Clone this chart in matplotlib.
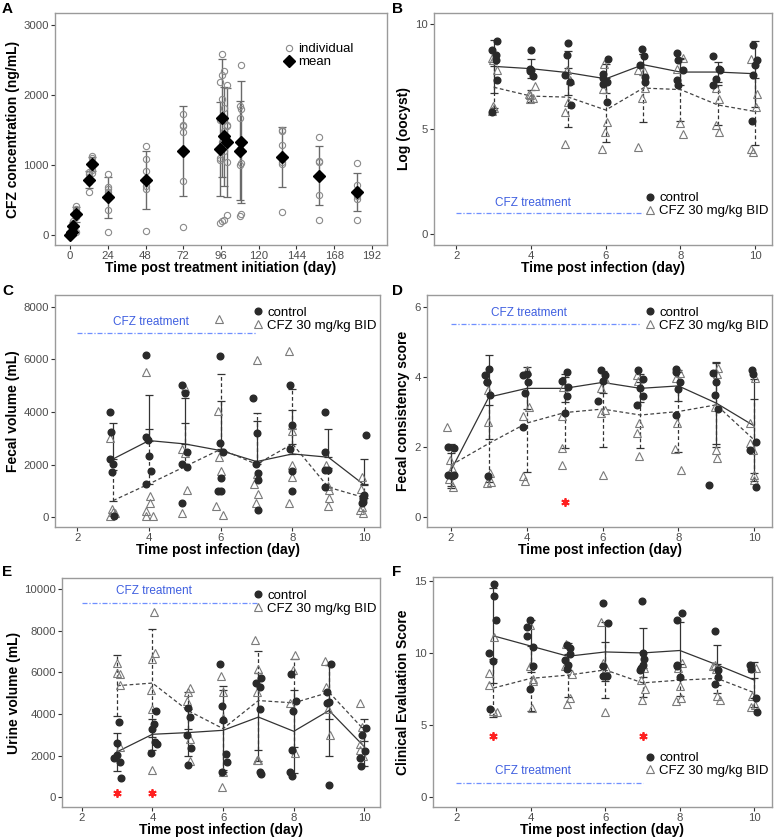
import matplotlib
matplotlib.use('Agg')
import matplotlib.pyplot as plt
from matplotlib.lines import Line2D
import numpy as np

plt.rcParams['font.family'] = ['Liberation Sans', 'DejaVu Sans']

# ---------------- panel A : CFZ concentration ----------------
A_days = [0, 1, 2, 4, 12, 14, 24, 48, 72, 95.5, 96.6, 97.6, 99.7, 107.8, 108.7, 134.7, 158.5, 182.4]
A_mean = [0, 30, 120, 290, 786, 1010, 533, 776, 1195, 1224, 1667, 1405, 1319, 1200, 1319, 1110, 843, 610]
A_sd = [0, 15, 60, 110, 120, 100, 293, 417, 638, 666, 843, 705, 777, 705, 871, 430, 420, 273]
A_ind = [
    [0, 5, 10, 0], [20, 40, 60], [60, 120, 200, 170], [40, 250, 300, 370, 410],
    [614, 757, 860, 900], [1129, 1014, 880, 1100, 930],
    [871, 681, 652, 605, 348, 38], [1262, 1081, 905, 690, 657, 57],
    [1729, 1571, 1557, 1462, 762, 105],
    [2177, 1643, 1096, 1072, 167], [2586, 2286, 1939, 1330, 190],
    [2334, 1810, 1480, 1200, 214], [2143, 1572, 1560, 1035, 286],
    [1833, 1667, 1230, 1000, 270], [2429, 1800, 1340, 1030, 300],
    [1500, 1476, 1281, 1038, 1010, 319], [1395, 1057, 1033, 571, 214],
    [1024, 714, 548, 510, 205],
]

# ---------------- panel B : log oocyst ----------------
B_days = [3, 4, 5, 6, 7, 8, 9, 10]
B_ctrl_mean = [7.97, 7.86, 7.67, 7.38, 8.05, 7.70, 7.70, 7.62]
B_ctrl_sd = [1.25, 0.45, 1.05, 0.69, 0.49, 0.63, 0.46, 1.57]
B_trt_mean = [6.98, 6.56, 6.51, 5.90, 6.94, 6.87, 6.14, 5.83]
B_trt_sd = [1.0, 0.3, 1.4, 1.5, 1.6, 1.5, 0.95, 1.6]
B_ctrl_x = [2.94, 3.09, 3.05, 3.07, 3.09, 2.94, 4.01, 3.97, 4.01, 4.04, 3.97,
            4.99, 4.95, 4.90, 5.04, 5.06, 6.07, 5.93, 5.93, 6.02, 6.04, 5.93,
            6.96, 7.02, 7.05, 7.05, 6.92, 7.90, 7.94, 8.08, 7.90, 7.92,
            8.86, 9.02, 9.06, 8.95, 8.88, 9.95, 10.04, 10.0, 9.95, 9.91]
B_ctrl_y = [8.73, 9.17, 8.52, 8.29, 7.30, 5.79, 8.73, 7.86, 7.78, 7.51, 7.73,
            9.10, 8.52, 7.54, 7.22, 6.14, 8.30, 7.62, 7.14, 7.25, 6.30, 7.41,
            8.78, 8.46, 7.46, 7.22, 8.02, 8.62, 8.25, 7.78, 7.30, 7.10,
            8.46, 7.83, 7.78, 7.38, 7.10, 8.97, 8.25, 8.02, 7.54, 5.40]
B_trt_x = [2.97, 2.94, 3.09, 2.98, 3.0, 2.94, 4.10, 3.95, 3.97, 4.04, 3.98,
           4.95, 5.04, 4.99, 4.90, 4.90, 5.95, 5.93, 6.02, 5.98, 5.91,
           6.87, 7.02, 7.05, 6.96, 6.87, 7.90, 8.08, 7.99, 8.06,
           8.95, 9.02, 8.95, 9.04, 9.88, 10.04, 10.02, 9.88, 9.95]
B_trt_y = [8.25, 8.37, 7.78, 6.11, 5.98, 5.87, 7.03, 6.67, 6.59, 6.46, 6.40,
           7.78, 7.30, 6.27, 5.79, 4.29, 8.10, 6.90, 5.32, 4.87, 4.05,
           7.78, 7.73, 6.94, 6.46, 4.13, 7.86, 8.37, 5.29, 4.76,
           6.94, 6.40, 5.19, 4.87, 8.30, 6.67, 6.03, 4.05, 3.89]

# ---------------- panel C : fecal volume ----------------
C_days = [3, 4, 5, 6, 7, 8, 9, 10]
C_ctrl_mean = [2215, 2912, 2785, 2532, 2114, 2405, 2279, 1228]
C_ctrl_sd = [1350, 1734, 1735, 1900, 1557, 1671, 1063, 1000]
C_trt_mean = [633, 1266, 1924, 2583, 2013, 2785, 1139, 747]
C_trt_sd = [1165, 2076, 1671, 2848, 1937, 2089, 720, 520]
C_ctrl_x = [2.91, 2.93, 2.91, 2.99, 2.96, 3.02, 3.91, 3.93, 3.98, 4.01, 4.07, 3.93,
            4.91, 5.0, 5.07, 4.91, 5.05, 4.91, 5.98, 5.98, 6.05, 6.02, 5.93, 6.02,
            6.91, 7.0, 7.05, 7.05, 7.05, 6.98, 7.93, 8.0, 7.93, 7.98, 7.98,
            8.91, 8.91, 8.91, 9.0, 8.91, 10.05, 9.99, 9.97, 9.96, 9.93, 9.97]
C_ctrl_y = [4013, 3254, 2215, 2026, 1709, 50, 6165, 3038, 2937, 2329, 1760, 1266,
            5026, 4735, 2494, 2026, 1924, 532, 6127, 2810, 2494, 1507, 1013, 1013,
            4520, 3216, 1697, 1418, 279, 2013, 5026, 3507, 2583, 1772, 1013,
            4013, 2494, 1798, 1798, 1165, 3127, 848, 684, 595, 532, 785]
C_trt_x = [2.91, 2.96, 3.0, 2.91, 3.05, 3.91, 4.03, 4.03, 3.93, 3.93, 4.1,
           4.91, 5.0, 5.05, 4.91, 5.0, 5.96, 5.93, 5.96, 6.0, 6.05, 5.88,
           7.0, 6.93, 7.0, 7.05, 6.98, 7.91, 7.98, 8.0, 7.98, 8.0, 7.91,
           8.93, 9.0, 9.03, 9.03, 9.0, 9.90, 9.93, 9.88, 9.97, 9.93]
C_trt_y = [3000, 304, 215, 51, 152, 5532, 810, 532, 241, 51, 51,
           2583, 4900, 1038, 177, 2431, 7520, 4039, 2279, 1772, 89, 430,
           5975, 1266, 1633, 886, 557, 6330, 3507, 3279, 1988, 1544, 532,
           1988, 1190, 1038, 722, 430, 1063, 1544, 279, 152, 405]

# ---------------- panel D : fecal consistency ----------------
D_days = [2, 3, 4, 5, 6, 7, 8, 9, 10]
D_ctrl_mean = [1.33, 3.42, 3.67, 3.67, 3.84, 3.67, 3.74, 3.25, 2.60]
D_ctrl_sd = [0.5, 1.2, 0.6, 0.4, 0.31, 0.4, 0.44, 1.17, 1.34]
D_trt_mean = [1.48, 2.10, 2.68, 2.98, 3.08, 2.91, 3.01, 3.20, 2.20]
D_trt_sd = [0.6, 1.1, 1.38, 1.0, 1.08, 0.94, 1.14, 1.2, 1.16]
D_ctrl_x = [1.93, 2.08, 1.93, 2.02, 2.08, 2.90, 3.01, 2.94, 3.03, 2.98, 2.96,
            3.91, 4.0, 3.95, 4.04, 3.91, 4.92, 5.05, 5.09, 5.05, 5.01,
            5.97, 6.02, 5.89, 6.06, 6.94, 7.07, 7.07, 6.91, 6.98,
            7.95, 8.04, 8.0, 7.93, 7.93, 8.92, 8.99, 8.96, 9.05, 8.81,
            9.93, 9.96, 10.04, 9.89, 10.04]
D_ctrl_y = [2.01, 1.98, 1.21, 1.16, 1.21, 4.05, 4.22, 3.86, 3.48, 1.16, 3.84,
            4.05, 4.08, 3.53, 3.84, 2.58, 3.89, 4.15, 3.70, 3.46, 2.98,
            4.2, 3.89, 3.32, 4.05, 4.18, 3.94, 3.44, 3.2, 3.67,
            4.22, 3.86, 3.65, 2.91, 4.15, 4.10, 3.86, 3.48, 3.08, 0.92,
            4.18, 4.07, 2.14, 1.92, 0.85]
D_trt_x = [1.90, 1.97, 1.96, 2.06, 2.02, 2.98, 2.98, 2.94, 3.07, 3.03,
           4.01, 3.91, 4.07, 3.95, 3.91, 4.96, 4.92, 4.92, 4.92,
           5.95, 6.06, 5.95, 6.06, 6.02, 6.90, 6.94, 6.97, 6.91, 6.97,
           7.95, 7.97, 7.91, 8.08, 8.04, 8.96, 9.05, 9.02, 8.99, 9.02,
           9.90, 10.02, 9.89, 9.97, 9.99, 9.99]
D_trt_y = [2.58, 1.63, 1.08, 0.85, 1.40, 3.61, 2.70, 0.97, 0.99, 1.25,
           4.2, 2.87, 3.13, 1.02, 1.18, 3.72, 2.87, 1.97, 1.49,
           3.67, 3.93, 2.96, 3.06, 1.21, 4.05, 3.89, 2.68, 2.41, 1.73,
           3.96, 2.68, 1.94, 1.35, 4.12, 3.13, 4.24, 4.08, 1.90, 1.68,
           2.68, 3.96, 2.11, 1.92, 1.21, 1.06]
D_star_days = [5]

# ---------------- panel E : urine volume ----------------
E_days = [3, 4, 5, 6, 7, 8, 9, 10]
E_ctrl_mean = [2187, 3027, 3107, 3218, 3852, 3170, 4169, 2425]
E_ctrl_sd = [919, 737, 1133, 1925, 2100, 2000, 2200, 930]
E_trt_mean = [5357, 5484, 4169, 3297, 4644, 4533, 5040, 3218]
E_trt_sd = [1466, 2600, 900, 2060, 2377, 2100, 1300, 520]
E_ctrl_x = [3.04, 2.99, 2.92, 2.99, 3.08, 3.10, 4.10, 4.05, 3.98, 3.95, 4.08, 4.12,
            5.02, 5.07, 5.08, 5.02, 4.97, 5.92, 5.96, 5.99, 6.08, 6.10, 5.96,
            6.93, 7.07, 7.05, 7.03, 7.03, 7.07, 7.92, 7.97, 7.94, 8.07, 7.90, 7.94,
            8.93, 9.05, 9.01, 8.93, 9.01, 9.92, 10.05, 10.02, 9.88, 9.90]
E_ctrl_y = [3614, 2631, 1870, 2029, 1680, 951, 4121, 3503, 3265, 2108, 2663, 2584,
            4280, 3852, 2378, 1553, 2980, 6388, 4406, 3693, 2061, 1680, 1236,
            5484, 5706, 5278, 4248, 1205, 1110, 5912, 4121, 2267, 4644, 1205, 1046,
            5072, 6388, 4565, 4533, 571, 3011, 3328, 2219, 1902, 1522]
E_trt_x = [2.99, 2.99, 3.07, 3.08, 3.08, 4.03, 3.98, 4.08, 3.95, 3.98, 3.98,
           5.07, 5.02, 4.97, 5.07, 5.05, 5.93, 6.01, 6.01, 6.01, 5.96,
           6.91, 7.0, 6.97, 6.95, 7.0, 8.04, 7.97, 7.90, 8.04,
           8.89, 8.92, 8.98, 9.03, 9.86, 9.92, 9.88, 9.88, 9.97]
E_trt_y = [6435, 5960, 5912, 5389, 2425, 8876, 6657, 6911, 5151, 4248, 1316,
           5230, 5072, 4644, 2821, 1743, 5801, 5072, 3804, 1236, 475,
           7545, 6150, 5072, 1791, 1791, 6816, 6118, 4533, 2108,
           6546, 5278, 4216, 2980, 4533, 3376, 2584, 2267, 1997]
E_star_days = [3, 4]

# ---------------- panel F : clinical evaluation score ----------------
F_days = [3, 4, 5, 6, 7, 8, 9, 10]
F_ctrl_mean = [11.21, 10.5, 9.79, 10.09, 10.02, 10.19, 9.19, 8.13]
F_ctrl_sd = [3.3, 1.8, 0.95, 2.05, 1.7, 2.0, 1.4, 1.25]
F_trt_mean = [7.58, 8.25, 8.48, 8.84, 7.94, 8.13, 8.25, 7.25]
F_trt_sd = [2.0, 2.25, 1.5, 1.97, 1.0, 1.1, 1.0, 1.0]
F_ctrl_x = [3.02, 3.02, 3.07, 2.89, 2.98, 2.91, 3.97, 3.91, 3.89, 4.06, 4.07, 3.98,
            4.97, 5.06, 5.06, 4.92, 5.01, 4.97, 5.95, 6.08, 5.95, 5.93, 6.04,
            6.98, 7.0, 7.04, 7.02, 6.92, 6.95, 7.93, 8.05, 7.93, 8.01, 7.92,
            8.94, 9.03, 8.94, 9.01, 9.88, 9.90, 10.04, 10.06]
F_ctrl_y = [14.83, 13.98, 12.32, 10.02, 9.43, 6.11, 12.32, 11.85, 11.21, 10.43, 9.08, 7.49,
            10.57, 10.38, 9.95, 9.55, 9.15, 8.91, 13.46, 12.09, 9.08, 8.44, 8.44,
            13.65, 10.02, 9.62, 9.19, 8.84, 8.96, 12.32, 12.80, 9.19, 8.36, 9.08,
            11.56, 8.84, 7.89, 8.36, 9.19, 8.91, 6.87, 5.88]
F_trt_x = [3.02, 2.89, 2.89, 2.98, 3.09, 3.98, 3.97, 4.07, 4.06, 4.03,
           4.95, 4.92, 5.10, 5.06, 4.97, 5.88, 5.93, 6.02, 5.99,
           6.95, 7.07, 6.98, 7.04, 7.90, 8.02, 8.01, 8.05, 7.96,
           8.88, 8.97, 8.99, 9.08, 8.94, 9.93, 9.90, 10.02, 10.04, 9.93]
F_trt_y = [11.14, 8.60, 7.77, 6.0, 5.92, 11.99, 9.08, 8.2, 8.06, 6.16,
           10.66, 9.08, 8.53, 6.87, 6.47, 12.16, 9.31, 8.96, 5.92,
           8.13, 7.54, 6.78, 9.0, 6.71, 6.87, 7.73, 9.31, 9.0,
           9.08, 8.91, 7.06, 6.78, 9.19, 7.01, 6.23, 6.40, 8.96, 8.96]
F_star_days = [3, 7]

treat_label = 'CFZ treatment'
legend_labels = ['control', 'CFZ 30 mg/kg BID']

W, H = 777, 839
fig = plt.figure(figsize=(W / 100, H / 100), dpi=100)
LAB = 10


def make_ax(x0, y0, x1, y1):
    ax = fig.add_axes([x0 / W, 1 - y1 / H, (x1 - x0) / W, (y1 - y0) / H])
    for s in ax.spines.values():
        s.set_color('#9a9a9a')
        s.set_linewidth(1.0)
    ax.tick_params(direction='out', length=3, width=0.8, color='#333333',
                   labelsize=8.2, labelcolor='#4d4d4d', pad=1.5)
    return ax


def letter(x, y, s):
    fig.text(x / W, 1 - y / H, s, fontsize=11, fontweight='bold', va='top', ha='left')


def errbars(ax, x, m, sd, dashed, upper_only=False):
    sd = np.array(sd)
    yerr = [np.zeros_like(sd), sd] if upper_only else sd
    eb = ax.errorbar(x, m, yerr=yerr, fmt='none', ecolor='#333333',
                     elinewidth=0.9, capsize=3, capthick=0.9, zorder=2)
    if dashed:
        eb[2][0].set_linestyle((0, (3, 2)))


def group_panel(ax, days, cx, cy, tx, ty, cm, cs, tm, ts, upper_only=False):
    errbars(ax, days, cm, cs, False, upper_only)
    errbars(ax, days, tm, ts, True, upper_only)
    ax.plot(days, cm, color='#333333', lw=0.9, zorder=3)
    ax.plot(days, tm, color='#444444', lw=0.9, ls=(0, (3, 2)), zorder=3)
    ax.plot(tx, ty, ls='none', marker='^', ms=6, mfc='none', mec='#7a7a7a',
            mew=0.8, zorder=4)
    ax.plot(cx, cy, ls='none', marker='o', ms=4.8, mfc='#2a2a2a', mec='#2a2a2a',
            zorder=5)


def treat_bar(ax, y, ytext):
    ax.plot([2, 7], [y, y], color='#6f8fff', lw=0.9, ls=(0, (4, 1.5, 1, 1.5)), zorder=1)
    ax.text(4.05, ytext, treat_label, color='#3f5fe0', fontsize=8.5, ha='center', va='center')


def group_legend(ax, loc, anchor):
    h = [Line2D([], [], ls='none', marker='o', ms=4.8, mfc='#2a2a2a', mec='#2a2a2a'),
         Line2D([], [], ls='none', marker='^', ms=6, mfc='none', mec='#7a7a7a', mew=0.8)]
    ax.legend(h, legend_labels, loc=loc, bbox_to_anchor=anchor, frameon=False,
              fontsize=9.5, handlelength=0.8, handletextpad=0.3, labelspacing=0.05,
              borderaxespad=0, borderpad=0)


def stars(ax, days, y):
    ax.plot(days, [y] * len(days), ls='none', marker=(6, 2, 0), ms=6, mew=1.3,
            color='#ff2020', zorder=6)


def day_axis(ax, xlim):
    ax.set_xlim(*xlim)
    ax.set_xticks([2, 4, 6, 8, 10])
    ax.set_xlabel('Time post infection (day)', fontsize=LAB, fontweight='bold', labelpad=0)


# ---- A
ax = make_ax(55, 13, 387, 245)
for d, m, s in zip(A_days, A_mean, A_sd):
    ax.errorbar([d], [m], yerr=[s], fmt='none', ecolor='#6a6a6a', elinewidth=1.0,
                capsize=3, capthick=0.9, zorder=2)
for d, vals in zip(A_days, A_ind):
    ax.plot([d] * len(vals), vals, ls='none', marker='o', ms=4.5, mfc='none',
            mec='#8a8a8a', mew=0.8, zorder=3)
ax.plot(A_days, A_mean, ls='none', marker='D', ms=5.8, color='black', zorder=4)
ax.set_xlim(-9.6, 201.6)
ax.set_ylim(-150, 3170)
ax.set_xticks(np.arange(0, 193, 24))
ax.set_yticks([0, 1000, 2000, 3000])
ax.set_xlabel('Time post treatment initiation (day)', fontsize=LAB, fontweight='bold', labelpad=0)
ax.set_ylabel('CFZ concentration (ng/mL)', fontsize=LAB, fontweight='bold', labelpad=2)
hA = [Line2D([], [], ls='none', marker='o', ms=4.5, mfc='none', mec='#8a8a8a', mew=0.8),
      Line2D([], [], ls='none', marker='D', ms=5.8, color='black')]
ax.legend(hA, ['individual', 'mean'], loc='upper right', bbox_to_anchor=(0.9, 0.87),
          frameon=False, fontsize=9.5, handlelength=0.8, handletextpad=0.3,
          labelspacing=0.05, borderaxespad=0, borderpad=0)
letter(2, 2, 'A')

# ---- B
ax = make_ax(434, 13, 772, 245)
group_panel(ax, B_days, B_ctrl_x, B_ctrl_y, B_trt_x, B_trt_y,
            B_ctrl_mean, B_ctrl_sd, B_trt_mean, B_trt_sd)
treat_bar(ax, 1.0, 1.5)
ax.set_ylim(-0.5, 10.5)
ax.set_yticks([0, 5, 10])
day_axis(ax, (1.4, 10.45))
ax.set_ylabel('Log (oocyst)', fontsize=LAB, fontweight='bold', labelpad=3)
group_legend(ax, 'lower right', (0.99, 0.12))
letter(392, 2, 'B')

# ---- C
ax = make_ax(55, 295, 380, 527)
group_panel(ax, C_days, C_ctrl_x, C_ctrl_y, C_trt_x, C_trt_y,
            C_ctrl_mean, C_ctrl_sd, C_trt_mean, C_trt_sd, upper_only=True)
treat_bar(ax, 7000, 7400)
ax.set_ylim(-370, 8440)
ax.set_yticks([0, 2000, 4000, 6000, 8000])
day_axis(ax, (1.38, 10.44))
ax.set_ylabel('Fecal volume (mL)', fontsize=LAB, fontweight='bold', labelpad=2)
group_legend(ax, 'upper right', (0.99, 0.95))
letter(2, 284, 'C')

# ---- D
ax = make_ax(427, 295, 772, 527)
group_panel(ax, D_days, D_ctrl_x, D_ctrl_y, D_trt_x, D_trt_y,
            D_ctrl_mean, D_ctrl_sd, D_trt_mean, D_trt_sd)
treat_bar(ax, 5.5, 5.81)
stars(ax, D_star_days, 0.42)
ax.set_ylim(-0.28, 6.33)
ax.set_yticks([0, 2, 4, 6])
day_axis(ax, (1.37, 10.47))
ax.set_ylabel('Fecal consistency score', fontsize=LAB, fontweight='bold', labelpad=3)
group_legend(ax, 'upper right', (0.99, 0.95))
letter(392, 284, 'D')

# ---- E
ax = make_ax(62, 578, 380, 807)
group_panel(ax, E_days, E_ctrl_x, E_ctrl_y, E_trt_x, E_trt_y,
            E_ctrl_mean, E_ctrl_sd, E_trt_mean, E_trt_sd)
treat_bar(ax, 9300, 9920)
stars(ax, E_star_days, 200)
ax.set_ylim(-461, 10523)
ax.set_yticks(np.arange(0, 10001, 2000))
day_axis(ax, (1.44, 10.44))
ax.set_ylabel('Urine volume (mL)', fontsize=LAB, fontweight='bold', labelpad=2)
group_legend(ax, 'upper right', (0.99, 0.95))
letter(2, 565, 'E')

# ---- F
ax = make_ax(433, 577, 772, 807)
group_panel(ax, F_days, F_ctrl_x, F_ctrl_y, F_trt_x, F_trt_y,
            F_ctrl_mean, F_ctrl_sd, F_trt_mean, F_trt_sd)
treat_bar(ax, 1.0, 1.8)
stars(ax, F_star_days, 4.27)
ax.set_ylim(-0.69, 15.3)
ax.set_yticks([0, 5, 10, 15])
day_axis(ax, (1.38, 10.47))
ax.set_ylabel('Clinical Evaluation Score', fontsize=LAB, fontweight='bold', labelpad=3)
group_legend(ax, 'lower right', (0.99, 0.13))
letter(392, 565, 'F')

fig.savefig('out.png', dpi=100)
